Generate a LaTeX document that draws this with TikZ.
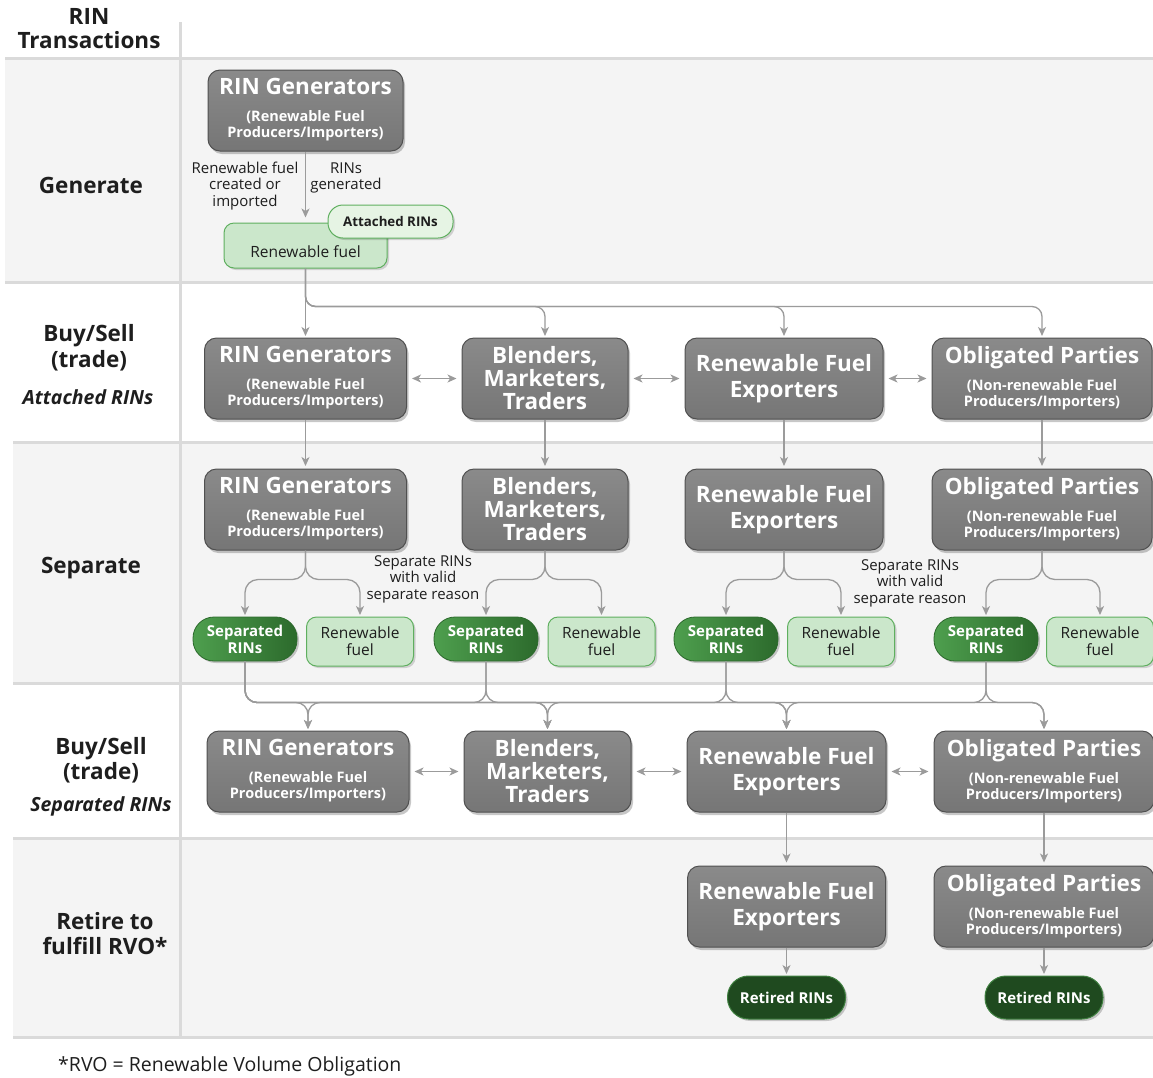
\documentclass[tikz,border=0pt]{standalone}
\usepackage{fontspec}
\setmainfont{Open Sans}
\usetikzlibrary{arrows.meta,shadows,calc}
\definecolor{bandgray}{HTML}{F4F4F4}
\definecolor{rulegray}{HTML}{DADADA}
\definecolor{boxtop}{HTML}{8A8A8A}
\definecolor{boxbot}{HTML}{767676}
\definecolor{boxedge}{HTML}{505050}
\definecolor{arrgray}{HTML}{9B9B9B}
\definecolor{lgfill}{HTML}{CBE7CB}
\definecolor{lgedge}{HTML}{5FAF5F}
\definecolor{attfill}{HTML}{E6F4E4}
\definecolor{sepA}{HTML}{4E9F4E}
\definecolor{sepB}{HTML}{2C6A2C}
\definecolor{retfill}{HTML}{1F4A1F}
\definecolor{retedge}{HTML}{3F8040}
\definecolor{txt}{HTML}{1E1E1E}
\newcommand\boxtitle{\fontsize{22.5}{25}\selectfont\bfseries}
\newcommand\subtxt[1]{{\fontsize{14.5}{16}\selectfont\bfseries\begin{tabular}[t]{@{}c@{}}#1\end{tabular}}}
\newcommand\rowlab{\fontsize{22.5}{24}\selectfont\bfseries}
\begin{document}
\begin{tikzpicture}[x=1pt,y=-1pt,
  rule/.style={draw=rulegray,line width=3pt},
  gbox/.style={draw=boxedge,line width=1pt,rounded corners=12pt,top color=boxtop,bottom color=boxbot,
    text=white,align=center,inner sep=2pt,minimum height=81pt,font=\boxtitle,
    drop shadow={shadow xshift=2pt,shadow yshift=-3pt,opacity=0.22,fill=black}},
  lgbox/.style={draw=lgedge,line width=1pt,rounded corners=10pt,fill=lgfill,text=txt,align=center,
    inner sep=2pt,font=\fontsize{15.5}{17}\selectfont,
    drop shadow={shadow xshift=2pt,shadow yshift=-2pt,opacity=0.15,fill=black}},
  attbox/.style={draw=lgedge,line width=1pt,rounded corners=15pt,fill=attfill,text=txt,align=center,
    inner sep=2pt,font=\fontsize{13.3}{15}\selectfont\bfseries,
    drop shadow={shadow xshift=2pt,shadow yshift=-2pt,opacity=0.15,fill=black}},
  sepbox/.style={draw=sepB,line width=0.8pt,rounded corners=21pt,left color=sepA,right color=sepB,
    text=white,align=center,inner sep=2pt,minimum width=104pt,minimum height=44pt,
    font=\fontsize{15}{17}\selectfont\bfseries,
    drop shadow={shadow xshift=2pt,shadow yshift=-2pt,opacity=0.2,fill=black}},
  fuelbox/.style={lgbox,minimum width=107pt,minimum height=49pt},
  retbox/.style={draw=retedge,line width=1pt,rounded corners=21pt,fill=retfill,text=white,align=center,
    inner sep=2pt,minimum width=118pt,minimum height=43pt,font=\fontsize{15}{17}\selectfont\bfseries,
    drop shadow={shadow xshift=2pt,shadow yshift=-2pt,opacity=0.2,fill=black}},
  lab/.style={text=txt,align=center,inner sep=0pt,font=\rowlab},
  ital/.style={text=txt,inner sep=0pt,font=\fontsize{19.5}{22}\selectfont\bfseries\itshape},
  note/.style={text=txt,align=center,inner sep=0pt,font=\fontsize{15}{16.5}\selectfont},
  arr/.style={draw=arrgray,line width=1.3pt,-{Stealth[length=9pt,width=8pt,inset=2.5pt]},shorten >=1.5pt},
  dbl/.style={draw=arrgray,line width=1.3pt,{Stealth[length=9pt,width=8pt,inset=2.5pt]}-{Stealth[length=9pt,width=8pt,inset=2.5pt]},shorten >=5pt,shorten <=5pt}
]
\useasboundingbox (0,0) rectangle (1153,1077);
\fill[white] (0,0) rectangle (1153,1077);
% bands
\fill[bandgray] (5,58) rectangle (1153,282);
\fill[bandgray] (13,442) rectangle (1153,683);
\fill[bandgray] (13,838) rectangle (1153,1037);
\draw[rule] (5,58) -- (1153,58);
\draw[rule] (5,282) -- (1153,282);
\draw[rule] (13,442) -- (1153,442);
\draw[rule] (13,683) -- (1153,683);
\draw[rule] (13,838) -- (1153,838);
\draw[rule] (13,1037) -- (1153,1037);
\draw[rule] (180,22) -- (180,1037);

% row labels
\node[lab] (hdr) at (89,29) {RIN\\Transactions};
\node[lab] (lgen) at (91,185) {Generate};
\node[lab] (lbs1) at (89,348) {Buy/Sell\\[2pt](trade)};
\node[ital] (latt) at (88,397) {Attached RINs};
\node[lab] (lsep) at (91,568) {Separate};
\node[lab] (lbs2) at (101,760) {Buy/Sell\\[1pt](trade)};
\node[ital] (lsr) at (101,806) {Separated RINs};
\node[lab] (lret) at (105,934) {Retire to\\[1pt]fulfill RVO*};

% generate
\node[gbox,minimum width=195pt] (G1) at (305.5,110.5) {RIN Generators\\[2pt]\subtxt{(Renewable Fuel\\Producers/Importers)}};
\node[lgbox,minimum width=163pt,minimum height=45pt] (RF0) at (305.5,245.5) {\raisebox{-12pt}[0pt][0pt]{Renewable fuel}};
\node[attbox,minimum width=125pt,minimum height=33pt] (AR0) at (390.5,221.5) {Attached RINs};
\node[note] (n1) at (245,186) {Renewable fuel\\created or\\imported};
\node[note] (n2) at (346,178) {RINs\\generated};

% row 2
\node[gbox,minimum width=202pt] (a1) at (305.5,378.5) {RIN Generators\\[2pt]\subtxt{(Renewable Fuel\\Producers/Importers)}};
\node[gbox,minimum width=166pt] (a2) at (545,378.5) {Blenders,\\[-2pt]Marketers,\\[-2pt]Traders};
\node[gbox,minimum width=198pt] (a3) at (784,378.5) {Renewable Fuel\\[1pt]Exporters};
\node[gbox,minimum width=220pt] (a4) at (1042,378.5) {Obligated Parties\\[2pt]\subtxt{(Non-renewable Fuel\\Producers/Importers)}};

% row 3
\node[gbox,minimum width=202pt] (s1) at (305.5,509.5) {RIN Generators\\[2pt]\subtxt{(Renewable Fuel\\Producers/Importers)}};
\node[gbox,minimum width=166pt] (s2) at (545,509.5) {Blenders,\\[-2pt]Marketers,\\[-2pt]Traders};
\node[gbox,minimum width=198pt] (s3) at (784,509.5) {Renewable Fuel\\[1pt]Exporters};
\node[gbox,minimum width=220pt] (s4) at (1042,509.5) {Obligated Parties\\[2pt]\subtxt{(Non-renewable Fuel\\Producers/Importers)}};

% separated nodes
\node[sepbox] (sr1) at (245,639) {Separated\\RINs};
\node[fuelbox] (sf1) at (360,641.5) {Renewable\\fuel};
\node[sepbox] (sr2) at (486,639) {Separated\\RINs};
\node[fuelbox] (sf2) at (601.5,641.5) {Renewable\\fuel};
\node[sepbox] (sr3) at (726,639) {Separated\\RINs};
\node[fuelbox] (sf3) at (841,641.5) {Renewable\\fuel};
\node[sepbox] (sr4) at (986,639) {Separated\\RINs};
\node[fuelbox] (sf4) at (1100,641.5) {Renewable\\fuel};
\node[note] (n3) at (423,579) {Separate RINs\\with valid\\separate reason};
\node[note] (n4) at (910,583) {Separate RINs\\with valid\\separate reason};

% row 4
\node[gbox,minimum width=202pt] (b1) at (308,771.5) {RIN Generators\\[2pt]\subtxt{(Renewable Fuel\\Producers/Importers)}};
\node[gbox,minimum width=167pt] (b2) at (547.5,771.5) {Blenders,\\[-2pt]Marketers,\\[-2pt]Traders};
\node[gbox,minimum width=199pt] (b3) at (786.5,771.5) {Renewable Fuel\\[1pt]Exporters};
\node[gbox,minimum width=220pt] (b4) at (1044,771.5) {Obligated Parties\\[2pt]\subtxt{(Non-renewable Fuel\\Producers/Importers)}};

% row 5
\node[gbox,minimum width=198pt] (r3) at (786.5,906.5) {Renewable Fuel\\[1pt]Exporters};
\node[gbox,minimum width=220pt] (r4) at (1044,906.5) {Obligated Parties\\[2pt]\subtxt{(Non-renewable Fuel\\Producers/Importers)}};
\node[retbox] (t3) at (786.5,997.5) {Retired RINs};
\node[retbox] (t4) at (1044,997.5) {Retired RINs};

\node[anchor=west,inner sep=0pt,text=txt,font=\fontsize{19.5}{22}\selectfont] (fn) at (58,1066) {*RVO = Renewable Volume Obligation};

% connectors
\draw[arr,shorten >=5pt] (G1.south) -- (RF0.north);
\draw[arr] (RF0.south) -- (a1.north);
\foreach \j in {a2,a3,a4}
  \draw[arr,rounded corners=10pt] (RF0.south) |- ($(\j.north)+(0,-31)$) -- (\j.north);
\draw[dbl] (a1.east) -- (a2.west);
\draw[dbl] (a2.east) -- (a3.west);
\draw[dbl] (a3.east) -- (a4.west);
\foreach \i in {1,2,3,4} {
  \draw[arr,shorten >=2.5pt] (a\i.south) -- (s\i.north);
  \draw[arr,rounded corners=13pt] (s\i.south) -- ++(0,29) -| (sr\i.north);
  \draw[arr,rounded corners=13pt] (s\i.south) -- ++(0,29) -| (sf\i.north);
}
\foreach \i/\j in {1/1,1/2,1/3,1/4,2/1,2/2,3/2,3/3,4/3,4/4}
  \draw[arr,rounded corners=12pt] (sr\i.south) |- ($(b\j.north)+(0,-28)$) -- (b\j.north);
\draw[dbl] (b1.east) -- (b2.west);
\draw[dbl] (b2.east) -- (b3.west);
\draw[dbl] (b3.east) -- (b4.west);
\draw[arr,shorten >=3pt] (b3.south) -- (r3.north);
\draw[arr,shorten >=3pt] (b4.south) -- (r4.north);
\draw[arr] (r3.south) -- (t3.north);
\draw[arr] (r4.south) -- (t4.north);
\end{tikzpicture}
\end{document}
